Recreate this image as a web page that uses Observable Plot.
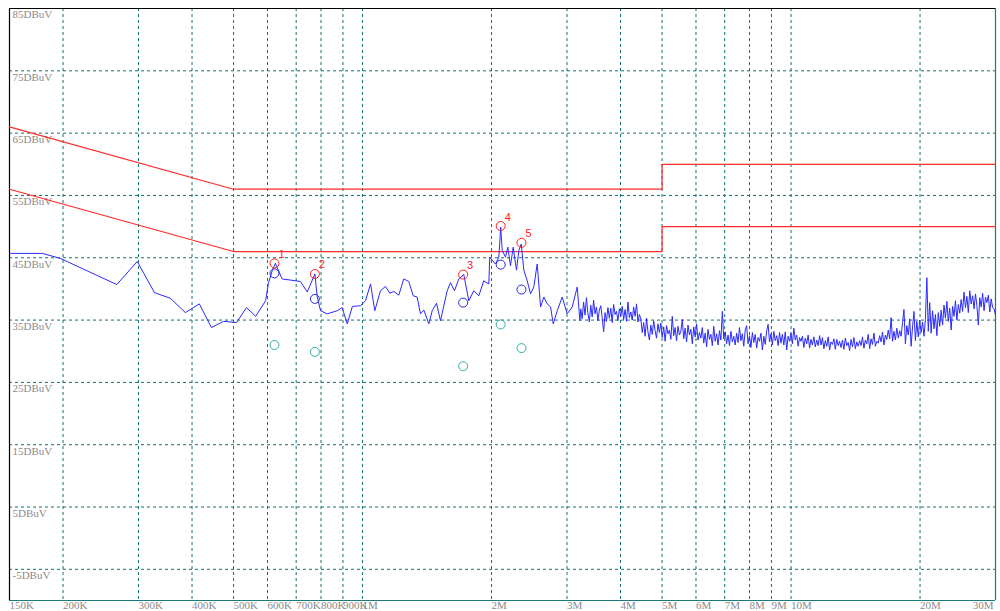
<!DOCTYPE html>
<html><head><meta charset="utf-8">
<script src="https://cdn.jsdelivr.net/npm/d3@7"></script>
<script src="https://cdn.jsdelivr.net/npm/@observablehq/plot@0.6"></script>
<style>html,body{margin:0;padding:0;background:#fff;overflow:hidden;}</style>
</head><body><div id="chart"></div>
<script>
// Frequency ticks (MHz) and labels
const freqTicks = [0.15,0.2,0.3,0.4,0.5,0.6,0.7,0.8,0.9,1,2,3,4,5,6,7,8,9,10,20,30];
const freqLabels = ["150K","200K","300K","400K","500K","600K","700K","800K","900K","1M","2M","3M","4M","5M","6M","7M","8M","9M","10M","20M","30M"];
const levelTicks = [85,75,65,55,45,35,25,15,5,-5];

// Limit lines (dBuV)
const qpLimitFreq = [0.15,0.5,5,5,30];
const qpLimitLevel = [66,56,56,60,60];
const avLimitFreq = [0.15,0.5,5,5,30];
const avLimitLevel = [56,46,46,50,50];

// Measured trace, low band (MHz, dBuV)
const sparseFreq = [0.150,0.179,0.197,0.267,0.298,0.327,0.356,0.386,0.416,0.444,0.474,0.508,0.536,0.563,0.594,0.603,0.616,0.626,0.649,0.716,0.743,0.774,0.784,0.798,0.827,0.873,0.896,0.921,0.947,0.989,1.016,1.044,1.068,1.101,1.131,1.158,1.183,1.215,1.248,1.282,1.313,1.341,1.365,1.390,1.428,1.454,1.488,1.520,1.576,1.604,1.639,1.677,1.723,1.770,1.818,1.868,1.918,1.971,1.981,2.043,2.080,2.101,2.118,2.156,2.183,2.214,2.247,2.287,2.316,2.346,2.379,2.423,2.466,2.510,2.556,2.603,2.649,2.697,2.746,2.786,2.847,2.924,3.003,3.085,3.169,3.215];
const sparseLevel = [45.7,45.7,44.9,40.7,44.4,39.4,38.5,36.2,37.6,33.8,34.8,34.6,37.0,35.6,38.1,40.9,43.0,44.1,41.6,41.2,39.5,42.4,38.7,36.5,36.0,36.5,37.0,34.4,37.2,37.3,38.1,40.8,36.5,39.7,40.4,39.3,39.6,39.0,41.6,41.2,38.9,38.7,36.0,36.6,34.4,36.5,37.7,34.9,39.7,41.0,39.7,41.6,42.3,38.1,39.7,38.9,41.3,40.8,45.1,44.0,45.1,49.9,46.2,45.1,46.7,43.7,46.7,43.0,46.2,47.2,43.0,41.3,39.2,40.3,44.0,37.1,38.7,37.6,37.1,34.4,36.5,38.7,36.0,37.1,40.3,34.9];

// Measured trace, dense band 3.23 MHz .. 30 MHz (dBuV, read in sweep order)
const denseStart = 3.23, denseStop = 30;
const denseLevel = [
36.8,35.2,37.9,35.8,38.6,36.1,34.7,37.4,35.5,38.2,36.0,37.1,34.9,36.6,
37.3,35.4,33.1,36.2,34.8,37.0,35.3,36.9,34.6,37.5,35.9,36.4,34.9,36.8,
35.6,37.2,35.1,36.7,34.8,37.9,35.4,36.3,35.0,37.1,35.6,37.6,34.7,35.9,
35.2,33.0,34.6,32.4,35.3,33.1,31.8,34.2,32.7,34.9,33.3,32.1,34.4,33.0,
34.5,32.2,33.9,31.6,34.1,32.8,33.4,31.9,35.6,32.5,33.8,31.7,34.0,32.6,
33.2,35.1,32.0,33.7,31.5,34.2,32.6,33.5,31.2,33.9,32.3,34.4,31.8,33.0,
32.1,33.8,31.3,32.9,30.7,33.5,31.9,32.7,30.9,34.0,31.6,32.8,31.0,33.3,
31.8,36.4,32.0,33.1,31.2,32.6,30.9,33.2,31.5,32.4,31.0,32.9,31.4,33.8,
31.7,32.8,30.8,33.4,34.1,31.2,32.5,30.6,33.0,31.4,32.7,30.5,32.2,31.6,
32.9,30.2,32.4,31.1,33.3,34.3,31.5,32.8,31.0,33.2,31.7,32.5,30.9,33.0,
31.3,32.7,31.0,33.1,30.2,32.4,31.6,32.9,31.2,33.7,31.8,32.6,30.8,32.2,
31.6,32.4,30.6,32.1,31.2,32.6,30.5,31.9,31.0,32.3,30.7,31.8,30.9,32.5,
31.0,32.2,30.4,31.7,30.8,32.3,30.2,31.5,31.1,32.0,30.3,31.9,30.9,31.6,
30.6,31.8,30.3,32.1,30.9,31.4,30.1,31.9,30.7,32.2,30.4,31.5,30.8,31.7,
30.9,32.3,30.5,31.8,31.2,32.7,30.4,32.0,31.1,32.9,30.8,31.6,31.3,32.5,
31.5,33.1,31.0,32.6,31.9,33.4,32.0,35.4,31.6,33.2,31.8,33.7,32.1,33.3,
32.4,34.6,36.7,31.2,34.1,32.6,35.2,30.8,33.9,36.4,31.7,34.8,32.3,35.0,
33.0,34.7,32.4,35.1,41.8,33.2,37.8,32.9,36.5,33.6,35.9,32.5,36.2,34.0,
36.6,34.2,37.4,35.3,38.0,34.8,36.9,33.4,37.2,35.6,38.1,35.0,37.5,36.1,
38.3,36.4,39.5,37.0,38.8,36.2,39.7,37.6,38.9,36.8,39.2,37.3,34.2,38.6,
37.1,39.3,36.5,38.7,37.8,39.0,36.3,38.4,37.0,36.8,35.8
];

// Final measurement markers
const markerIds = ["1","2","3","4","5"];
const markerFreq = [0.623,0.774,1.717,2.101,2.349];
const markerPeak = [44.1,42.4,42.3,50.1,47.4];
const markerQuasiPeak = [42.5,38.4,37.8,43.9,39.9];
const markerAverage = [31.0,29.9,27.6,34.3,30.5];

// ---- build tables
const gridFreqs = freqTicks.slice(1, -1);
const gridLevels = levelTicks.slice(1);
const toRows = (fs, vs) => fs.map((f, i) => ({f, v: vs[i]}));
const n = denseLevel.length;
const ratio = denseStop / denseStart;
const denseRows = denseLevel.map((v, i) => ({f: denseStart * Math.pow(ratio, i / (n - 1)), v}));
const trace = toRows(sparseFreq, sparseLevel).concat(denseRows);
const qpLimit = toRows(qpLimitFreq, qpLimitLevel);
const avLimit = toRows(avLimitFreq, avLimitLevel);
const markers = markerIds.map((id, i) => ({id, f: markerFreq[i], pk: markerPeak[i], qp: markerQuasiPeak[i], av: markerAverage[i]}));
const xLabels = freqTicks.map((f, i) => ({f, label: freqLabels[i], end: i === freqTicks.length - 1}));

const gridColor = "#0f7272";
const chart = Plot.plot({
  width: 1000, height: 611,
  marginTop: 8, marginLeft: 9, marginRight: 5, marginBottom: 11,
  x: {type: "log", domain: [0.15, 30], axis: null},
  y: {domain: [-10, 85], axis: null},
  style: {fontFamily: "Liberation Serif", fontSize: "11px", background: "#fff", overflow: "visible"},
  marks: [
    Plot.ruleX(gridFreqs, {stroke: gridColor, strokeDasharray: "3,3", strokeWidth: 1}),
    Plot.ruleY(gridLevels, {stroke: gridColor, strokeDasharray: "3,3", strokeWidth: 1}),
    Plot.ruleY([-10], {stroke: "#1a7a7a", strokeWidth: 1.2}),
    Plot.ruleX([30], {stroke: "#1a7a7a", strokeWidth: 1.2}),
    Plot.ruleY([85], {stroke: "#000", strokeWidth: 1.2}),
    Plot.ruleX([0.15], {stroke: "#000", strokeWidth: 1.2}),
    Plot.text(levelTicks, {x: 0.15, y: d => d, text: d => d + "DBuV", textAnchor: "start", lineAnchor: "top", dx: 3, dy: 2, fill: "#8a8a8a"}),
    Plot.line(qpLimit, {x: "f", y: "v", stroke: "#ff2a2a", strokeWidth: 1.2}),
    Plot.line(avLimit, {x: "f", y: "v", stroke: "#ff2a2a", strokeWidth: 1.2}),
    Plot.line(trace, {x: "f", y: "v", stroke: "#2a2aff", strokeWidth: 1}),
    Plot.dot(markers, {x: "f", y: "av", r: 4.5, stroke: "#2fb0b0", fill: "none", strokeWidth: 1}),
    Plot.dot(markers, {x: "f", y: "qp", r: 4.5, stroke: "#2525e0", fill: "none", strokeWidth: 1}),
    Plot.dot(markers, {x: "f", y: "pk", r: 4.5, stroke: "#ff2020", fill: "none", strokeWidth: 1}),
    Plot.text(markers, {x: "f", y: "pk", text: "id", dx: 7, dy: -9, fill: "#ff2020", fontFamily: "Liberation Sans", fontSize: 11}),
    Plot.text(xLabels.filter(d => !d.end), {x: "f", text: "label", frameAnchor: "bottom", textAnchor: "start", lineAnchor: "top", dy: 1, fill: "#8a8a8a"}),
    Plot.text(xLabels.filter(d => d.end), {x: "f", text: "label", frameAnchor: "bottom", textAnchor: "end", lineAnchor: "top", dy: 1, dx: -2, fill: "#8a8a8a"})
  ]
});
document.getElementById("chart").appendChild(chart);
</script>
</body></html>
